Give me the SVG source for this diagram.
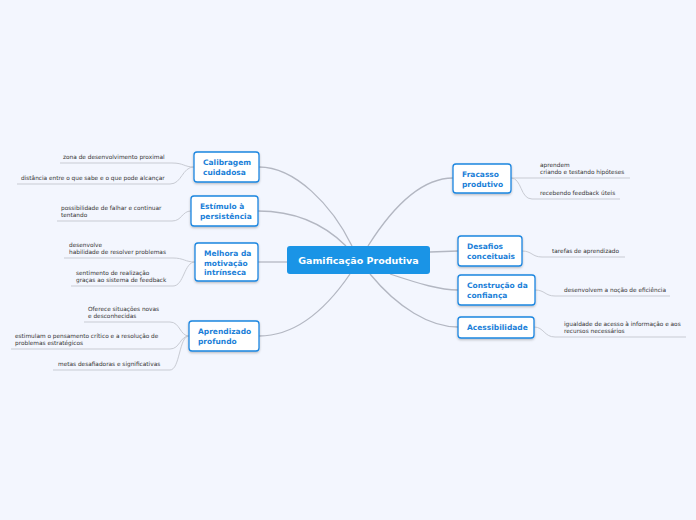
<svg xmlns="http://www.w3.org/2000/svg" width="696" height="520" viewBox="0 0 696 520">
<defs>
<filter id="sh" x="-20%" y="-20%" width="140%" height="150%"><feDropShadow dx="0" dy="1.2" stdDeviation="1" flood-color="#000" flood-opacity="0.25"/></filter>
<style>
.n{fill:#fff;stroke:#1b86e0;stroke-width:1.3;filter:url(#sh)}
.nt{font-family:"DejaVu Sans",Verdana,sans-serif;font-size:7.5px;font-weight:bold;fill:#1b7fd8}
.lt{font-family:"DejaVu Sans",Verdana,sans-serif;font-size:5.8px;fill:#333}
.c{fill:none;stroke:#b3b7c2;stroke-width:1.3}
.u{fill:none;stroke:#c8cbd3;stroke-width:1}
</style>
</defs>
<rect width="696" height="520" fill="#f3f6fe"/>
<g id="connectors">
<path class="c" d="M352,246 C332,205 295,167 259,167"/>
<path class="c" d="M346,246 C322,222 292,211 258,211"/>
<path class="c" d="M287,262 L258,262"/>
<path class="c" d="M350,274 C322,315 292,336 259,336"/>
<path class="c" d="M368,246 C392,208 420,178 453,178"/>
<path class="c" d="M430,252 L458,251"/>
<path class="c" d="M390,274 C420,284 440,290 458,290"/>
<path class="c" d="M370,274 C398,308 430,327 458,327"/>
<path class="u" d="M60,163 L172,163 C184,163 184,167 194,167"/>
<path class="u" d="M17,184 L170,184 C182,184 182,167 194,167"/>
<path class="u" d="M57,221 L172,221 C182,221 182,211 191,211"/>
<path class="u" d="M64,258 L173,258 C184,258 185,262 195,262"/>
<path class="u" d="M71,286 L173,286 C184,286 184,262 195,262"/>
<path class="u" d="M84,322 L170,322 C180,322 180,336 189,336"/>
<path class="u" d="M11,349 L170,349 C180,349 180,336 189,336"/>
<path class="u" d="M53,370 L170,370 C180,370 179,336 189,336"/>
<path class="u" d="M511,178 L630,178"/>
<path class="u" d="M511,178 C522,178 520,199 532,199 L620,199"/>
<path class="u" d="M522,251 C532,251 532,257 542,257 L625,257"/>
<path class="u" d="M535,290 C545,290 545,296 555,296 L670,296"/>
<path class="u" d="M534,327 C544,327 544,337 555,337 L686,337"/>
</g>
<g id="central">
<rect x="287" y="246" width="143" height="28" rx="3" fill="#1a94e6"/>
<text x="358.5" y="263.5" text-anchor="middle" font-family="'DejaVu Sans',Verdana,sans-serif" font-size="9.5" font-weight="bold" fill="#fff">Gamificação Produtiva</text>
</g>
<g id="calibragem">
<rect class="n" x="194" y="152" width="65" height="30" rx="3"/>
<text class="nt" x="203" y="165">Calibragem</text><text class="nt" x="203" y="174.5">cuidadosa</text>
</g>
<g id="estimulo">
<rect class="n" x="191" y="196" width="67" height="30" rx="3"/>
<text class="nt" x="200" y="209">Estímulo à</text><text class="nt" x="200" y="218.5">persistência</text>
</g>
<g id="melhora">
<rect class="n" x="195" y="243" width="63" height="38" rx="3"/>
<text class="nt" x="204" y="256">Melhora da</text><text class="nt" x="204" y="265.5">motivação</text><text class="nt" x="204" y="275">intrínseca</text>
</g>
<g id="aprendizado">
<rect class="n" x="189" y="321" width="70" height="30" rx="3"/>
<text class="nt" x="198" y="334">Aprendizado</text><text class="nt" x="198" y="344">profundo</text>
</g>
<g id="fracasso">
<rect class="n" x="453" y="164" width="58" height="29" rx="3"/>
<text class="nt" x="462" y="177">Fracasso</text><text class="nt" x="462" y="186.5">produtivo</text>
</g>
<g id="desafios">
<rect class="n" x="458" y="236" width="64" height="30" rx="3"/>
<text class="nt" x="467" y="249">Desafios</text><text class="nt" x="467" y="258.5">conceituais</text>
</g>
<g id="construcao">
<rect class="n" x="458" y="275" width="77" height="30" rx="3"/>
<text class="nt" x="467" y="288">Construção da</text><text class="nt" x="467" y="297.5">confiança</text>
</g>
<g id="acessibilidade">
<rect class="n" x="458" y="317" width="76" height="21" rx="3"/>
<text class="nt" x="467" y="330">Acessibilidade</text>
</g>
<g id="leaves">
<text class="lt" x="63" y="159">zona de desenvolvimento proximal</text>
<text class="lt" x="21" y="180">distância entre o que sabe e o que pode alcançar</text>
<text class="lt" x="61" y="210">possibilidade de falhar e continuar</text>
<text class="lt" x="61" y="217">tentando</text>
<text class="lt" x="69" y="247">desenvolve</text>
<text class="lt" x="69" y="254">habilidade de resolver problemas</text>
<text class="lt" x="76" y="275">sentimento de realização</text>
<text class="lt" x="76" y="282">graças ao sistema de feedback</text>
<text class="lt" x="88" y="311">Oferece situações novas</text>
<text class="lt" x="88" y="318">e desconhecidas</text>
<text class="lt" x="15" y="338">estimulam o pensamento crítico e a resolução de</text>
<text class="lt" x="15" y="345">problemas estratégicos</text>
<text class="lt" x="58" y="366">metas desafiadoras e significativas</text>
<text class="lt" x="540" y="167">aprendem</text>
<text class="lt" x="540" y="174">criando e testando hipóteses</text>
<text class="lt" x="540" y="195">recebendo feedback úteis</text>
<text class="lt" x="552" y="253">tarefas de aprendizado</text>
<text class="lt" x="564" y="292">desenvolvem a noção de eficiência</text>
<text class="lt" x="564" y="326">igualdade de acesso à informação e aos</text>
<text class="lt" x="564" y="333">recursos necessários</text>
</g>
</svg>
